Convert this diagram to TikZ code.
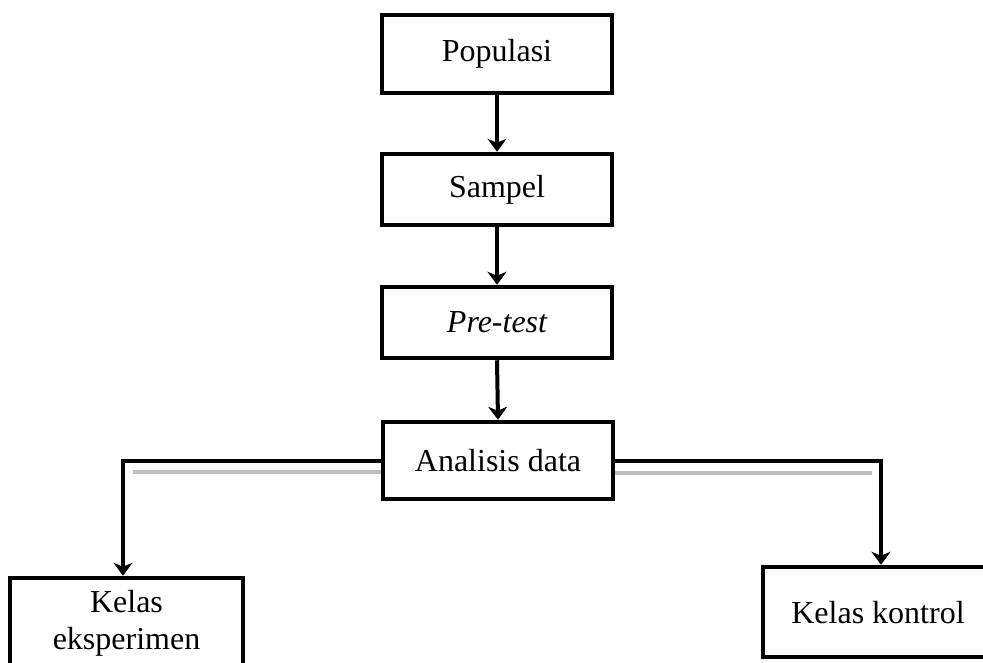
\documentclass[tikz,border=0pt]{standalone}
\usepackage{fontspec}
\setmainfont{Liberation Serif}
\usetikzlibrary{arrows.meta}
\begin{document}
\begin{tikzpicture}[x=1pt,y=-1pt,
  box/.style={draw, line width=4.5pt, rectangle, inner sep=0pt, minimum width=230pt, font=\fontsize{32}{37}\selectfont},
  lbl/.style={inner sep=0pt, align=center, font=\fontsize{32}{37}\selectfont},
  arr/.style={line width=4pt, -{Stealth[length=13pt,width=19pt,inset=4pt]}},
  grayline/.style={line width=3.5pt, gray!50}]
\useasboundingbox (0,0) rectangle (983,662);
\clip (0,0) rectangle (983,662);
\node[box, minimum height=78pt] (pop) at (497,54) {Populasi};
\node[box, minimum height=71pt] (sam) at (497,189.5) {Sampel};
\node[box, minimum height=71pt] (pre) at (497,322.5) {\itshape Pre-test};
\node[box, minimum height=77pt] (ana) at (498,460.5) {Analisis data};
\node[box, minimum width=233pt, minimum height=124pt] (ke) at (126.5,640) {};
\node[lbl] (ket) at (126.5,623) {Kelas\\eksperimen};
\node[box, minimum width=336pt, minimum height=90pt] (kk) at (931,612) {};
\node[lbl] (kkt) at (878,613) {Kelas kontrol};
\draw[arr] (pop.south) -- (sam.north);
\draw[arr] (sam.south) -- (pre.north);
\draw[arr] (pre.south) -- (ana.north);
\coordinate (lc) at (123,460);
\coordinate (rc) at (881,460);
\coordinate (lg) at (133,472);
\coordinate (rg) at (872,473);
\draw[grayline] (lg) -- (lg -| ana.west);
\draw[grayline] (rg) -- (rg -| ana.east);
\draw[arr] (ana.west) -| (ke.north -| lc);
\draw[arr] (ana.east) -| (kk.north -| rc);
\end{tikzpicture}
\end{document}
